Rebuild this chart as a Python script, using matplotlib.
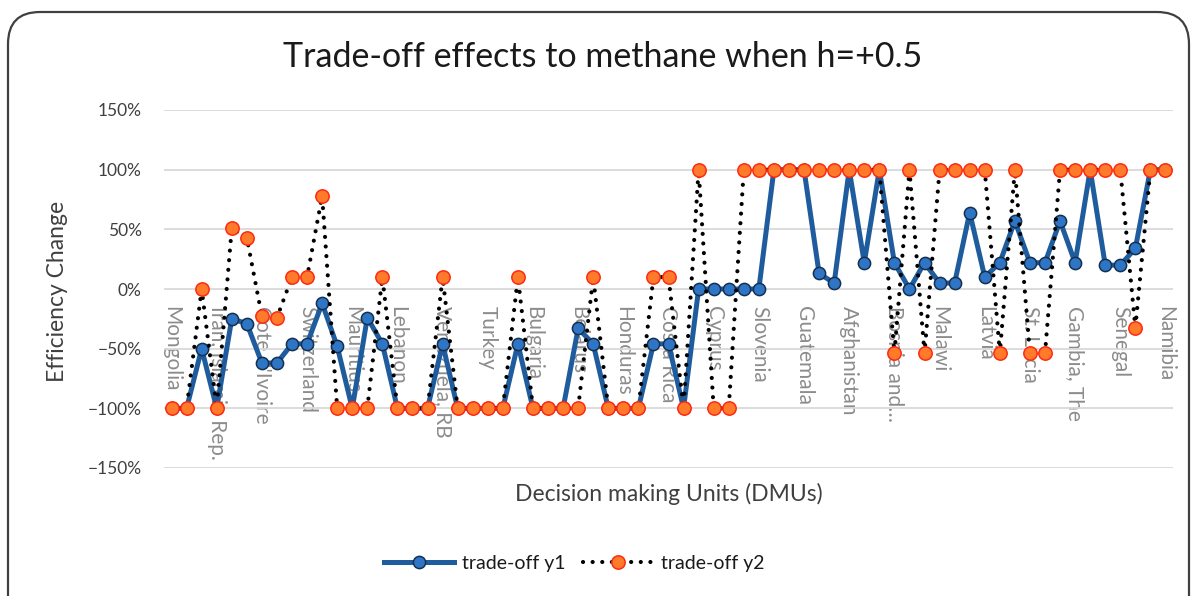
import matplotlib
matplotlib.use("Agg")
import matplotlib.pyplot as plt
from matplotlib.patches import FancyBboxPatch
from matplotlib.transforms import IdentityTransform
from matplotlib.ticker import FuncFormatter, FixedLocator
from matplotlib.lines import Line2D

# ---------------- data ----------------
n_dmus = 67
label_step = 3
dmu_labels = ["Mongolia", "Iran, Islamic Rep.", "Cote d'Ivoire", "Switzerland",
              "Mauritius", "Lebanon", "Venezuela, RB", "Turkey", "Bulgaria",
              "Belarus", "Honduras", "Costa Rica", "Cyprus", "Slovenia",
              "Guatemala", "Afghanistan", "Bosnia and\u2026", "Malawi", "Latvia",
              "St. Lucia", "Gambia, The", "Senegal", "Namibia"]

tradeoff_y1 = [-1.00, -1.00, -0.50, -1.00, -0.25, -0.29, -0.62, -0.62, -0.46, -0.46,
               -0.12, -0.48, -1.00, -0.24, -0.46, -1.00, -1.00, -1.00, -0.46, -1.00,
               -1.00, -1.00, -1.00, -0.46, -1.00, -1.00, -1.00, -0.33, -0.46, -1.00,
               -1.00, -1.00, -0.46, -0.46, -1.00, 0.00, 0.00, 0.00, 0.00, 0.00,
               1.00, 1.00, 1.00, 0.13, 0.05, 1.00, 0.22, 1.00, 0.22, 0.00,
               0.22, 0.05, 0.05, 0.64, 0.10, 0.22, 0.57, 0.22, 0.22, 0.57,
               0.22, 1.00, 0.20, 0.20, 0.34, 1.00, 1.00]

tradeoff_y2 = [-1.00, -1.00, 0.00, -1.00, 0.51, 0.43, -0.23, -0.24, 0.10, 0.10,
               0.78, -1.00, -1.00, -1.00, 0.10, -1.00, -1.00, -1.00, 0.10, -1.00,
               -1.00, -1.00, -1.00, 0.10, -1.00, -1.00, -1.00, -1.00, 0.10, -1.00,
               -1.00, -1.00, 0.10, 0.10, -1.00, 1.00, -1.00, -1.00, 1.00, 1.00,
               1.00, 1.00, 1.00, 1.00, 1.00, 1.00, 1.00, 1.00, -0.54, 1.00,
               -0.54, 1.00, 1.00, 1.00, 1.00, -0.54, 1.00, -0.54, -0.54, 1.00,
               1.00, 1.00, 1.00, 1.00, -0.325, 1.00, 1.00]

y_ticks = [-1.5, -1.0, -0.5, 0.0, 0.5, 1.0, 1.5]

# ---------------- figure ----------------
plt.rcParams['font.family'] = ['Lato', 'DejaVu Sans']
W, H = 1194, 596
fig = plt.figure(figsize=(W / 100, H / 100), dpi=100)
fig.patch.set_facecolor("white")

# outer rounded chart border
border = FancyBboxPatch((8, -60), 1181, 584 + 60,
                        boxstyle="round,pad=0,rounding_size=32",
                        transform=IdentityTransform(), facecolor="none",
                        edgecolor="#404040", linewidth=1.6)
fig.add_artist(border)

ax = fig.add_axes([164 / W, 1 - 468 / H, (1173 - 164) / W, (468 - 110) / H])
ax.set_facecolor("none")

x = list(range(n_dmus))

blue_style = dict(color="#1f5c9e", linewidth=3.6, marker="o", markersize=8.8,
                  markerfacecolor="#2e75c6", markeredgecolor="#15304f",
                  markeredgewidth=1.1)
dot_style = dict(color="black", linewidth=3.0, linestyle=(0, (0.01, 2.3)),
                 dash_capstyle="round", marker="o", markersize=9.6,
                 markerfacecolor="#ff7a2a", markeredgecolor="#ff2a10",
                 markeredgewidth=1.1)

ax.plot(x, tradeoff_y1, solid_joinstyle="round", zorder=3, **blue_style)
ax.plot(x, tradeoff_y2, zorder=4, **dot_style)

ax.set_xlim(-0.5, n_dmus - 0.5)
ax.set_ylim(-1.5, 1.5)

ax.yaxis.set_major_locator(FixedLocator(y_ticks))
ax.yaxis.set_major_formatter(FuncFormatter(
    lambda v, p: "\u2212{:.0f}%".format(abs(v) * 100) if v < 0 else "{:.0f}%".format(v * 100)))
ax.grid(axis="y", color="#d9d9d9", linewidth=1.3, zorder=0)
ax.set_axisbelow(True)

for s in ["left", "right", "top"]:
    ax.spines[s].set_visible(False)
ax.spines["bottom"].set_position(("data", 0))
ax.spines["bottom"].set_color("none")

ax.set_xticks(list(range(0, n_dmus, label_step)))
ax.set_xticklabels(dmu_labels, rotation=-90, fontsize=15, color="#8c8c8c")
ax.tick_params(axis="x", length=0, pad=12)
ax.tick_params(axis="y", length=0, pad=16, labelsize=12.5, labelcolor="#404040")

# titles
fig.text(603 / W, 1 - 57 / H, "Trade-off effects to methane when h=+0.5",
         ha="center", va="center", fontsize=24.5, color="#1a1a1a")
fig.text(58 / W, 1 - 291 / H, "Efficiency Change", rotation=90,
         ha="center", va="center", fontsize=16.5, color="#404040")
fig.text(669 / W, 1 - 494 / H, "Decision making Units (DMUs)",
         ha="center", va="center", fontsize=16.5, color="#404040")

# legend
h1 = Line2D([], [], **blue_style)
h2 = Line2D([], [], **dot_style)
fig.legend([h1, h2], ["trade-off y1", "trade-off y2"], loc="center",
           bbox_to_anchor=(574 / W, 1 - 563 / H), ncol=2, frameon=False,
           fontsize=14, handlelength=3.6, columnspacing=0.9, handletextpad=0.4,
           labelcolor="#1a1a1a")

fig.savefig("out.png", dpi=100, facecolor="white")
